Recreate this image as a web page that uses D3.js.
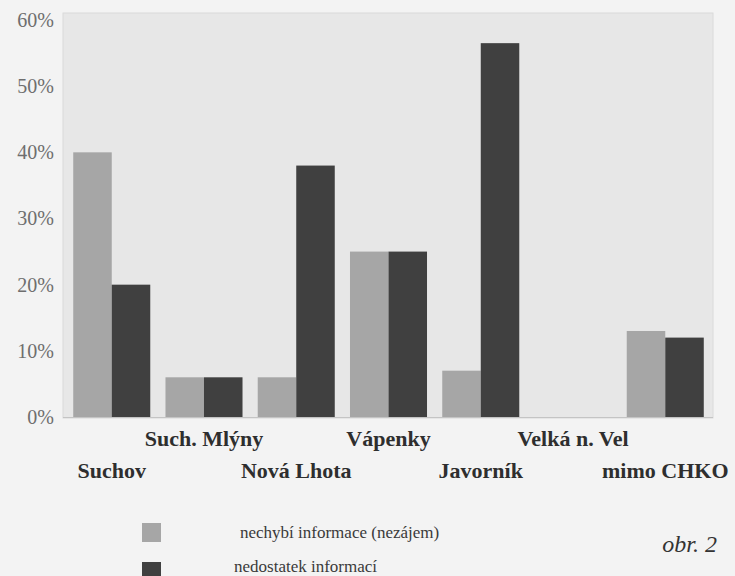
<!DOCTYPE html>
<html>
<head>
<meta charset="utf-8">
<script src="https://cdn.jsdelivr.net/npm/d3@7"></script>
<style>
  html, body { margin: 0; padding: 0; background: #f3f3f3; }
  svg { display: block; }
  svg text { font-family: 'Liberation Serif', 'Times New Roman', 'DejaVu Serif', serif; }
</style>
</head>
<body>
<div id="graph-div"></div>
<script>
// data (percent)
const places = ['Suchov', 'Such. Mlýny', 'Nová Lhota', 'Vápenky', 'Javorník', 'Velká n. Vel', 'mimo CHKO'];
const noInterest = [40, 6, 6, 25, 7, 0, 13];     // nechybí informace (nezájem)
const lackOfInfo = [20, 6, 38, 25, 56.5, 0, 12]; // nedostatek informací
const yTicks = [0, 10, 20, 30, 40, 50, 60];
const seriesNames = ['nechybí informace (nezájem)', 'nedostatek informací'];

const w = 735;
const h = 576;
const plot = { left: 63, right: 713, top: 13, bottom: 417 };
const colors = ['#a6a6a6', '#404040'];
const serif = "'Liberation Serif', 'Times New Roman', 'DejaVu Serif', serif";

const svg = d3.select('#graph-div')
    .append('svg')
    .attr('width', w)
    .attr('height', h);

const xScale = d3.scaleBand()
    .domain(places)
    .range([plot.left + 1, plot.right])
    .paddingInner(0.165)
    .paddingOuter(0.1);

const subScale = d3.scaleBand()
    .domain([0, 1])
    .range([0, xScale.bandwidth()]);

const yScale = d3.scaleLinear()
    .domain([0, 60])
    .range([plot.bottom, 20]);

// grey plot area
svg.append('rect')
   .attr('x', plot.left)
   .attr('y', plot.top)
   .attr('width', plot.right - plot.left)
   .attr('height', plot.bottom - plot.top + 1)
   .attr('fill', '#e7e7e7')
   .attr('stroke', '#dadada');

// bars
const rows = places.map((p, i) => ({ place: p, values: [noInterest[i], lackOfInfo[i]] }));

const groups = svg.selectAll('.group')
    .data(rows)
    .enter()
    .append('g')
    .attr('class', 'group')
    .attr('transform', d => `translate(${xScale(d.place)}, 0)`);

groups.selectAll('rect')
    .data(d => d.values.map((v, k) => ({ v, k })))
    .enter()
    .append('rect')
    .attr('x', d => subScale(d.k))
    .attr('y', d => yScale(d.v))
    .attr('width', subScale.bandwidth())
    .attr('height', d => yScale(0) - yScale(d.v))
    .attr('fill', d => colors[d.k]);

// baseline
svg.append('line')
   .attr('x1', plot.left)
   .attr('x2', plot.right)
   .attr('y1', plot.bottom + 0.5)
   .attr('y2', plot.bottom + 0.5)
   .attr('stroke', '#c4c4c4');

// y axis
const yAxis = d3.axisLeft(yScale)
    .tickValues(yTicks)
    .tickSize(0)
    .tickPadding(9)
    .tickFormat(d => d + '%');

svg.append('g')
   .attr('transform', `translate(${plot.left}, 0)`)
   .call(yAxis)
   .attr('font-family', serif)
   .call(g => g.select('.domain').remove())
   .selectAll('text')
   .style('font-family', serif)
   .attr('font-size', 20)
   .attr('fill', '#6e6e6e');

// x axis, labels staggered in two rows
const xAxis = d3.axisBottom(xScale).tickSize(0);

svg.append('g')
   .attr('transform', `translate(0, ${plot.bottom})`)
   .call(xAxis)
   .attr('font-family', serif)
   .call(g => g.select('.domain').remove())
   .selectAll('text')
   .attr('dy', null)
   .attr('y', (d, i) => i % 2 ? 29 : 61)
   .style('font-family', serif)
   .attr('font-weight', 'bold')
   .attr('font-size', 22)
   .attr('fill', '#2e2e2e');

// legend
const legend = svg.selectAll('.legendItem')
    .data(seriesNames)
    .enter()
    .append('g')
    .attr('class', 'legendItem')
    .attr('transform', (d, i) => `translate(142, ${523 + i * 39})`);

legend.append('rect')
      .attr('width', 19)
      .attr('height', 19)
      .attr('fill', (d, i) => colors[i]);

legend.append('text')
      .attr('x', (d, i) => i ? 92 : 98)
      .attr('y', (d, i) => i ? 10 : 15)
      .style('font-family', serif)
      .attr('font-size', 17)
      .attr('fill', '#3a3a3a')
      .text(d => d);

svg.append('text')
   .attr('x', 717)
   .attr('y', 552)
   .attr('text-anchor', 'end')
   .style('font-family', serif)
   .attr('font-style', 'italic')
   .attr('font-size', 24)
   .attr('fill', '#333')
   .text('obr. 2');
</script>
</body>
</html>
